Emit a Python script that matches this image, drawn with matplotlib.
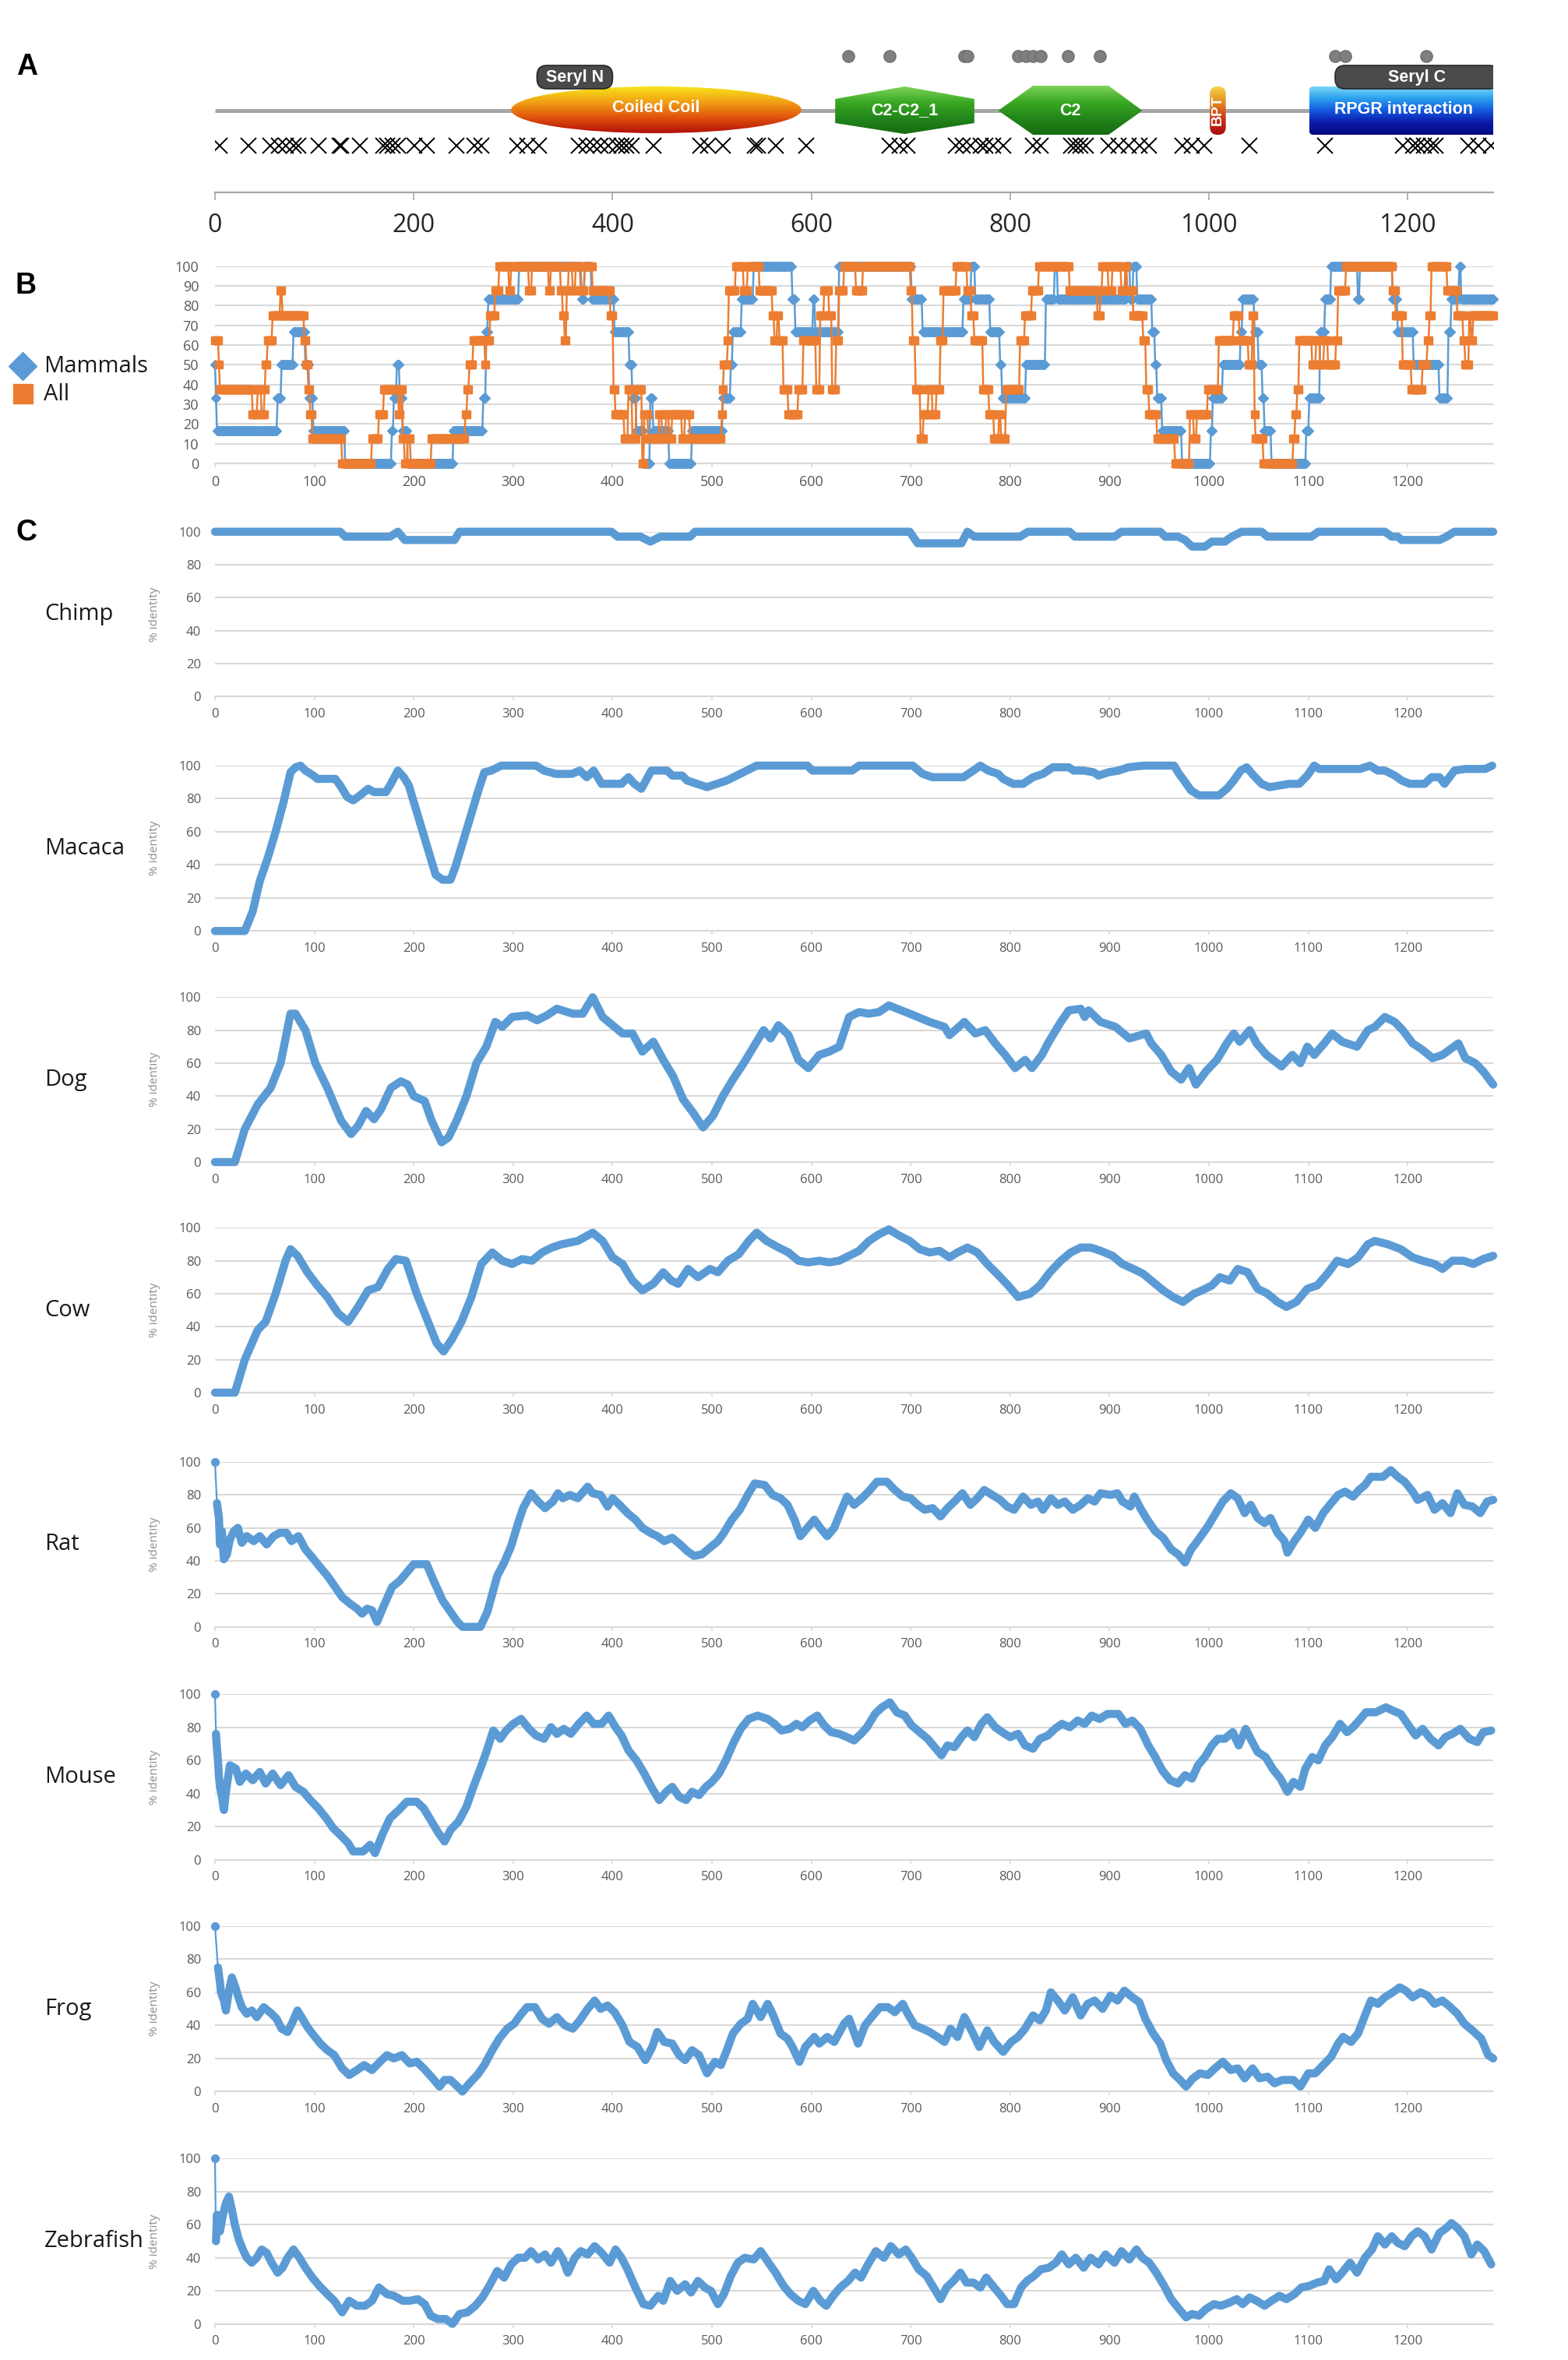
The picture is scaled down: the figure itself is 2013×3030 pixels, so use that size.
import numpy as np
import matplotlib
matplotlib.use("Agg")
import matplotlib.pyplot as plt
from matplotlib.patches import Ellipse, Polygon, FancyBboxPatch
from matplotlib.colors import LinearSegmentedColormap
from matplotlib.lines import Line2D

plt.rcParams['font.family'] = ['Open Sans', 'DejaVu Sans']

# ---------------- data: panel A (domain map) ----------------
protein_len = 1285
domain_names = ['Coiled Coil', 'C2-C2_1', 'C2', 'BPT', 'RPGR interaction']
domain_start = [298, 624, 788, 1001, 1101]
domain_end = [590, 764, 933, 1017, 1291]
seryl_names = ['Seryl N', 'Seryl C']
seryl_start = [324, 1127]
seryl_end = [400, 1292]
dot_pos = [637, 679, 754, 757, 808, 816, 823, 831, 858, 890, 1127, 1137, 1219]
cross_pos = [5, 34, 56, 64, 71, 79, 84, 104, 125, 127, 146, 169, 173, 179, 184, 201, 213,
             243, 261, 268, 304, 314, 326, 366, 374, 381, 388, 396, 404, 409, 414, 419,
             441, 488, 496, 511, 543, 546, 564, 595, 679, 689, 697, 745, 752, 760, 770,
             775, 783, 793, 823, 831, 861, 866, 871, 876, 899, 909, 919, 930, 940, 973,
             983, 995, 1041, 1117, 1195, 1205, 1210, 1216, 1223, 1228, 1261, 1271, 1284]
ruler_ticks = [0, 200, 400, 600, 800, 1000, 1200]

# ---------------- data: panel B (conservation, step series) ----------------
mam_start = [0, 1, 2, 63, 67, 79, 91, 95, 99, 131,
             178, 180, 183, 186, 189, 194, 240, 270, 273, 275,
             306, 369, 372, 379, 402, 417, 420, 424, 431, 438,
             441, 457, 480, 511, 519, 521, 530, 542, 581, 584,
             602, 604, 628, 701, 712, 753, 761, 765, 780, 790,
             792, 816, 836, 845, 848, 917, 921, 924, 928, 943,
             946, 948, 953, 973, 1002, 1004, 1014, 1032, 1034, 1046,
             1050, 1054, 1056, 1063, 1098, 1101, 1112, 1117, 1123, 1150,
             1152, 1185, 1190, 1206, 1232, 1241, 1244, 1252, 1254]
mam_val = [50, 33.3, 16.7, 33.3, 50, 66.7, 50, 33.3, 16.7, 0,
           16.7, 33.3, 50, 33.3, 16.7, 0, 16.7, 33.3, 66.7, 83.3,
           100, 83.3, 100, 83.3, 66.7, 50, 33.3, 16.7, 0, 33.3,
           16.7, 0, 16.7, 33.3, 50, 66.7, 83.3, 100, 83.3, 66.7,
           83.3, 66.7, 100, 83.3, 66.7, 83.3, 100, 83.3, 66.7, 50,
           33.3, 50, 83.3, 100, 83.3, 100, 83.3, 100, 83.3, 66.7,
           50, 33.3, 16.7, 0, 16.7, 33.3, 50, 66.7, 83.3, 66.7,
           50, 33.3, 16.7, 0, 16.7, 33.3, 66.7, 83.3, 100, 83.3,
           100, 83.3, 66.7, 50, 33.3, 66.7, 83.3, 100, 83.3]
all_start = [0, 4, 5, 38, 43, 47, 50, 51, 53, 58,
             66, 68, 90, 92, 94, 96, 98, 128, 158, 165,
             170, 185, 187, 189, 191, 194, 197, 218, 252, 254,
             256, 260, 272, 273, 277, 282, 286, 296, 298, 316,
             319, 336, 338, 348, 350, 352, 354, 356, 360, 363,
             368, 372, 380, 398, 401, 403, 412, 416, 420, 424,
             430, 432, 436, 447, 450, 454, 457, 460, 470, 473,
             478, 510, 511, 512, 516, 517, 524, 532, 536, 548,
             561, 563, 566, 568, 572, 577, 587, 592, 605, 609,
             613, 618, 621, 625, 628, 633, 645, 652, 700, 702,
             705, 710, 713, 718, 722, 726, 730, 733, 746, 757,
             761, 764, 773, 779, 784, 789, 791, 796, 810, 815,
             822, 829, 860, 888, 891, 893, 899, 903, 912, 916,
             918, 924, 934, 937, 940, 948, 966, 981, 985, 988,
             999, 1010, 1025, 1031, 1040, 1044, 1046, 1047, 1055, 1085,
             1087, 1089, 1091, 1104, 1108, 1112, 1116, 1120, 1128, 1130,
             1138, 1185, 1188, 1195, 1204, 1215, 1220, 1222, 1224, 1240,
             1250, 1256, 1258, 1262, 1264, 1266]
all_val = [62.5, 50, 37.5, 25, 37.5, 25, 37.5, 50, 62.5, 75,
           87.5, 75, 62.5, 50, 37.5, 25, 12.5, 0, 12.5, 25,
           37.5, 25, 37.5, 12.5, 0, 12.5, 0, 12.5, 25, 37.5,
           50, 62.5, 50, 62.5, 75, 87.5, 100, 87.5, 100, 87.5,
           100, 87.5, 100, 87.5, 75, 62.5, 87.5, 100, 87.5, 100,
           87.5, 100, 87.5, 75, 37.5, 25, 12.5, 37.5, 12.5, 37.5,
           0, 25, 12.5, 25, 12.5, 25, 12.5, 25, 12.5, 25,
           12.5, 25, 37.5, 50, 62.5, 87.5, 100, 87.5, 100, 87.5,
           75, 62.5, 75, 62.5, 37.5, 25, 37.5, 62.5, 37.5, 75,
           87.5, 75, 37.5, 62.5, 87.5, 100, 87.5, 100, 87.5, 62.5,
           37.5, 12.5, 25, 37.5, 25, 37.5, 62.5, 87.5, 100, 87.5,
           75, 62.5, 37.5, 25, 12.5, 25, 12.5, 37.5, 62.5, 75,
           87.5, 100, 87.5, 75, 87.5, 100, 87.5, 100, 87.5, 100,
           87.5, 75, 62.5, 37.5, 25, 12.5, 0, 25, 12.5, 25,
           37.5, 62.5, 75, 62.5, 50, 75, 25, 12.5, 0, 12.5,
           25, 37.5, 62.5, 50, 62.5, 50, 62.5, 50, 62.5, 87.5,
           100, 87.5, 75, 50, 37.5, 50, 62.5, 75, 100, 87.5,
           75, 62.5, 50, 75, 62.5, 75]

# ---------------- data: panel C (% identity per species) ----------------
chimp_x = [0, 126, 131, 176, 184, 191, 241, 246, 399, 405, 428, 438, 448, 478, 483, 699, 707, 751,
           757, 764, 810, 818, 860, 865, 905, 912, 951, 956, 969, 976, 983, 996, 1003, 1016, 1023,
           1033, 1053, 1059, 1103, 1110, 1177, 1184, 1190, 1194, 1232, 1239, 1247, 1286]
chimp_y = [100, 100, 97, 97, 100, 95, 95, 100, 100, 97, 97, 94, 97, 97, 100, 100, 93, 93,
           100, 97, 97, 100, 100, 97, 97, 100, 100, 97, 97, 95, 91, 91, 94, 94, 97,
           100, 100, 97, 97, 100, 100, 97, 97, 95, 95, 97, 100, 100]

macaca_x = [0, 30, 38, 45, 53, 61, 69, 76, 81, 86, 91, 99, 103, 121, 126, 133, 139, 146, 154, 160,
            172, 177, 184, 190, 195, 202, 210, 217, 222, 229, 237, 242, 249, 258, 265, 271, 278, 288,
            323, 331, 343, 359, 367, 374, 381, 389, 409, 416, 422, 429, 439, 455, 460, 470, 475, 485,
            495, 505, 515, 525, 535, 545, 596, 601, 641, 648, 702, 712, 722, 753, 763, 770, 778, 788,
            793, 803, 813, 823, 833, 843, 859, 864, 874, 884, 889, 899, 909, 919, 934, 965, 970, 975,
            982, 990, 1010, 1018, 1025, 1032, 1038, 1045, 1053, 1061, 1071, 1081, 1091, 1099, 1106,
            1111, 1152, 1162, 1170, 1177, 1187, 1194, 1202, 1217, 1224, 1232, 1237, 1242, 1247, 1258,
            1278, 1285]
macaca_y = [0, 0, 12, 30, 44, 60, 78, 96, 99, 100, 97, 94, 92, 92, 88, 81, 79, 82, 86, 84,
            84, 89, 97, 93, 88, 74, 58, 44, 34, 31, 31, 39, 53, 71, 85, 96, 97, 100,
            100, 97, 95, 95, 97, 93, 97, 89, 89, 93, 89, 86, 97, 97, 94, 94, 91, 89,
            87, 89, 91, 94, 97, 100, 100, 97, 97, 100, 100, 95, 93, 93, 97, 100, 97, 95,
            92, 89, 89, 93, 95, 99, 99, 97, 97, 96, 94, 96, 97, 99, 100, 100, 95, 91,
            85, 82, 82, 86, 91, 97, 99, 94, 89, 87, 88, 89, 89, 94, 100,
            98, 98, 100, 97, 97, 94, 91, 89, 89, 93, 93, 89, 93, 97, 98,
            98, 100]

dog_x = [0, 20, 30, 43, 56, 66, 76, 81, 91, 101, 113, 127, 137, 144, 152, 160, 167, 177, 187, 194,
         200, 211, 218, 228, 235, 243, 253, 263, 273, 282, 289, 299, 314, 324, 334, 344, 360, 370,
         380, 390, 400, 410, 420, 430, 441, 451, 461, 471, 481, 491, 501, 511, 521, 532, 542, 552,
         559, 567, 577, 587, 597, 608, 618, 628, 638, 648, 658, 668, 678, 699, 719, 734, 739, 754,
         765, 775, 785, 795, 805, 815, 822, 832, 838, 851, 859, 871, 875, 879, 891, 906, 920, 937,
         942, 952, 962, 972, 980, 987, 997, 1008, 1018, 1025, 1031, 1041, 1048, 1058, 1073, 1084,
         1092, 1099, 1106, 1116, 1124, 1134, 1149, 1160, 1167, 1177, 1187, 1195, 1205, 1215, 1225,
         1235, 1251, 1258, 1268, 1276, 1286]
dog_y = [0, 0, 20, 35, 45, 60, 90, 90, 80, 60, 45, 25, 17, 22, 31, 26, 32, 45, 49, 47,
         40, 37, 25, 12, 15, 25, 40, 60, 70, 85, 82, 88, 89, 86, 89, 93, 90, 90,
         100, 88, 83, 78, 78, 67, 73, 62, 52, 38, 30, 21, 28, 40, 50, 60, 70, 80,
         75, 83, 77, 62, 57, 65, 67, 70, 88, 91, 90, 91, 95, 90, 85, 82, 77, 85,
         78, 80, 72, 65, 57, 62, 57, 65, 72, 85, 92, 93, 88, 92, 85, 82, 75, 78,
         72, 65, 55, 50, 57, 47, 55, 62, 72, 78, 73, 80, 72, 65, 58, 65,
         60, 70, 65, 72, 78, 73, 70, 80, 82, 88, 85, 80, 72, 68, 63,
         65, 72, 63, 60, 55, 47]

cow_x = [0, 20, 30, 43, 51, 61, 71, 76, 83, 93, 103, 113, 124, 134, 144, 154, 164, 174, 182, 192,
         203, 213, 223, 230, 238, 248, 258, 268, 279, 289, 299, 309, 319, 329, 339, 349, 365, 380,
         390, 400, 410, 420, 430, 441, 451, 459, 466, 476, 486, 498, 506, 516, 527, 537, 545, 555,
         567, 577, 587, 597, 608, 618, 628, 638, 648, 658, 668, 678, 689, 699, 709, 719, 729, 739,
         747, 757, 767, 777, 787, 798, 808, 820, 830, 840, 851, 861, 871, 881, 891, 903, 913, 924,
         934, 944, 954, 964, 974, 985, 993, 1003, 1011, 1021, 1029, 1039, 1049, 1059, 1069, 1078,
         1088, 1099, 1109, 1119, 1129, 1140, 1150, 1160, 1167, 1180, 1193, 1205, 1215, 1227, 1235,
         1245, 1256, 1266, 1276, 1286]
cow_y = [0, 0, 20, 38, 43, 60, 80, 87, 83, 73, 65, 58, 48, 43, 52, 62, 64, 75, 81, 80,
         60, 45, 30, 25, 32, 43, 58, 78, 85, 80, 78, 81, 80, 85, 88, 90, 92, 97,
         92, 82, 78, 68, 62, 66, 73, 68, 66, 75, 70, 75, 73, 80, 84, 92, 97, 92,
         88, 85, 80, 79, 80, 79, 80, 83, 86, 92, 96, 99, 95, 92, 87, 85, 86, 82,
         85, 88, 85, 78, 72, 65, 58, 60, 65, 73, 80, 85, 88, 88, 86, 83, 78, 75,
         72, 67, 62, 58, 55, 60, 62, 65, 70, 68, 75, 73, 63, 60, 55, 52,
         55, 63, 65, 72, 80, 78, 82, 90, 92, 90, 87, 82, 80, 78, 75,
         80, 80, 78, 81, 83]

rat_x = [0, 2, 4, 5, 7, 9, 12, 15, 19, 23, 27, 32, 39, 45, 52, 59, 65, 72, 77, 84,
         91, 98, 106, 113, 120, 128, 136, 143, 148, 153, 158, 163, 170, 178, 186, 193, 200, 213,
         220, 229, 237, 244, 249, 267, 274, 279, 284, 291, 298, 305, 310, 318, 325, 332, 340, 345,
         350, 357, 365, 375, 380, 388, 395, 400, 407, 415, 423, 430, 438, 445, 452, 460, 468, 475,
         482, 490, 498, 506, 512, 520, 528, 536, 543, 553, 561, 569, 576, 583, 589, 596, 603, 609,
         616, 623, 629, 636, 643, 651, 659, 666, 676, 684, 692, 700, 707, 714, 722, 730, 737, 744,
         752, 760, 767, 774, 782, 790, 797, 804, 813, 821, 828, 833, 841, 848, 855, 863, 871, 878,
         885, 891, 901, 908, 913, 921, 925, 931, 938, 946, 954, 962, 969, 976, 982, 986, 992, 999,
         1006, 1014, 1022, 1029, 1036, 1042, 1049, 1056, 1062, 1069, 1076, 1079, 1086, 1092, 1100,
         1107, 1115, 1123, 1130, 1137, 1145, 1151, 1157, 1163, 1175, 1183, 1190, 1197, 1205, 1210,
         1220, 1227, 1235, 1243, 1250, 1257, 1265, 1273, 1280, 1286]
rat_y = [100, 75, 66, 50, 58, 41, 44, 53, 58, 60, 51, 55, 52, 55, 50, 55, 57, 57, 52, 55,
         47, 42, 36, 31, 25, 18, 14, 11, 8, 11, 10, 3, 13, 24, 28, 33, 38, 38,
         28, 16, 9, 3, 0, 0, 9, 20, 31, 39, 49, 63, 72, 81, 76, 72, 76, 81,
         78, 80, 78, 85, 81, 80, 73, 78, 74, 69, 65, 60, 57, 55, 52, 54, 50, 46,
         43, 44, 48, 52, 57, 65, 71, 80, 87, 86, 80, 78, 74, 65, 55, 60, 65, 60,
         55, 60, 69, 79, 74, 78, 83, 88, 88, 83, 79, 78, 74, 71, 72, 67, 72, 76,
         81, 74, 78, 83, 80, 77, 73, 71, 79, 74, 76, 71, 78, 74, 76, 71, 74, 78,
         76, 81, 80, 81, 76, 73, 79, 72, 65, 58, 54, 47, 44, 39, 47, 50, 55, 61,
         68, 76, 81, 78, 69, 74, 66, 63, 66, 57, 52, 45, 52, 57, 65,
         60, 69, 75, 80, 82, 79, 83, 86, 91, 91, 95, 91, 88, 82, 77,
         80, 71, 75, 69, 81, 74, 73, 69, 76, 77]

mouse_x = [0, 1, 2, 3, 4, 5, 7, 9, 11, 15, 21, 25, 31, 38, 45, 51, 58, 66, 74, 81,
           89, 96, 104, 112, 119, 126, 134, 139, 149, 156, 161, 169, 176, 185, 193, 203, 210, 217,
           225, 231, 237, 245, 253, 260, 267, 273, 280, 287, 293, 300, 308, 316, 323, 331, 338, 344,
           351, 358, 366, 374, 381, 389, 396, 403, 409, 416, 424, 432, 439, 447, 454, 460, 467, 474,
           480, 487, 494, 500, 507, 514, 522, 529, 537, 546, 556, 563, 570, 578, 585, 591, 598, 606,
           613, 620, 628, 636, 643, 650, 656, 664, 671, 679, 686, 694, 701, 709, 717, 724, 731, 737,
           744, 751, 757, 764, 771, 777, 785, 792, 800, 808, 815, 823, 830, 838, 845, 852, 860, 868,
           875, 882, 890, 898, 909, 916, 923, 931, 939, 946, 953, 961, 969, 976, 983, 989, 996, 1003,
           1009, 1016, 1024, 1030, 1037, 1042, 1049, 1057, 1064, 1072, 1079, 1085, 1092, 1097, 1104,
           1110, 1117, 1124, 1132, 1139, 1145, 1151, 1158, 1168, 1178, 1185, 1193, 1201, 1208, 1215,
           1223, 1231, 1238, 1245, 1253, 1262, 1270, 1276, 1284]
mouse_y = [100, 76, 67, 60, 50, 44, 38, 30, 41, 57, 55, 47, 52, 48, 53, 46, 52, 45, 51, 44,
           41, 36, 31, 25, 19, 15, 10, 5, 5, 9, 4, 16, 25, 30, 35, 35, 31, 24,
           16, 11, 18, 23, 32, 44, 55, 65, 78, 73, 78, 82, 85, 79, 75, 73, 80, 76,
           79, 76, 82, 87, 82, 82, 87, 80, 75, 66, 60, 52, 44, 36, 41, 44, 38, 36,
           41, 39, 44, 47, 52, 60, 71, 79, 85, 87, 85, 82, 78, 79, 82, 80, 84, 87,
           81, 77, 76, 74, 72, 76, 80, 88, 92, 95, 89, 87, 81, 77, 73, 68, 63, 69,
           68, 74, 78, 74, 82, 86, 80, 77, 74, 76, 69, 67, 73, 75, 79, 82, 80, 84,
           82, 87, 85, 88, 88, 82, 84, 79, 69, 62, 54, 48, 46, 51, 49, 57, 62, 69,
           73, 73, 77, 69, 79, 73, 65, 62, 55, 49, 41, 47, 44, 55, 62,
           60, 69, 74, 82, 77, 80, 84, 89, 89, 92, 90, 88, 81, 75, 79,
           73, 69, 74, 76, 79, 73, 71, 77, 78]

frog_x = [0, 3, 5, 6, 9, 11, 14, 17, 20, 23, 27, 32, 37, 42, 49, 57, 62, 67, 73, 78,
          83, 88, 93, 98, 106, 113, 120, 128, 135, 143, 150, 158, 166, 173, 180, 188, 196, 203,
          210, 219, 226, 231, 237, 244, 249, 256, 264, 271, 279, 286, 294, 301, 307, 314, 322, 329,
          336, 344, 352, 360, 367, 375, 382, 388, 395, 402, 410, 417, 425, 433, 440, 445, 452, 460,
          467, 473, 480, 487, 495, 503, 509, 515, 521, 529, 536, 541, 549, 556, 561, 569, 576, 581,
          588, 594, 603, 608, 616, 623, 633, 638, 647, 654, 662, 669, 677, 684, 692, 697, 704, 712,
          719, 727, 734, 740, 747, 754, 762, 769, 777, 784, 793, 801, 808, 815, 823, 830, 836, 841,
          848, 855, 863, 871, 878, 885, 893, 901, 908, 915, 923, 930, 936, 944, 951, 957, 964, 971,
          977, 984, 991, 999, 1006, 1014, 1022, 1029, 1036, 1044, 1051, 1059, 1066, 1074, 1085,
          1092, 1100, 1107, 1115, 1123, 1130, 1135, 1143, 1150, 1157, 1163, 1170, 1177, 1185, 1192,
          1198, 1205, 1213, 1220, 1227, 1235, 1243, 1250, 1257, 1265, 1274, 1281, 1286]
frog_y = [100, 75, 66, 60, 55, 49, 61, 69, 64, 58, 51, 47, 49, 45, 51, 47, 44, 38, 36, 42,
          49, 44, 39, 35, 29, 25, 22, 14, 10, 13, 16, 13, 18, 22, 20, 22, 17, 18,
          14, 8, 3, 7, 7, 3, 0, 5, 10, 16, 25, 32, 38, 41, 46, 51, 51, 44,
          41, 45, 40, 38, 43, 50, 55, 50, 52, 48, 40, 30, 27, 19, 27, 36, 30, 29,
          22, 19, 25, 22, 11, 18, 16, 25, 35, 41, 44, 53, 45, 53, 47, 35, 32, 27,
          18, 27, 33, 29, 33, 30, 41, 44, 29, 40, 46, 51, 51, 48, 53, 47, 40, 38,
          36, 33, 30, 38, 33, 45, 36, 27, 37, 30, 24, 30, 33, 38, 46, 43, 49, 60,
          55, 49, 57, 46, 53, 55, 50, 58, 55, 61, 57, 54, 44, 35, 29, 19, 11, 7,
          3, 8, 11, 10, 14, 18, 13, 14, 8, 14, 8, 9, 5, 7, 7,
          3, 11, 11, 16, 21, 29, 33, 30, 35, 46, 55, 53, 57, 60, 63,
          61, 57, 60, 58, 53, 55, 51, 47, 41, 37, 32, 22, 20]

zebrafish_x = [0, 1, 2, 5, 8, 11, 14, 17, 20, 24, 28, 32, 37, 42, 47, 52, 57, 63, 68, 73,
               79, 85, 91, 98, 105, 113, 120, 128, 135, 143, 151, 158, 165, 173, 180, 189, 196, 204,
               211, 217, 224, 232, 239, 246, 254, 262, 269, 276, 284, 291, 298, 305, 312, 318, 325,
               332, 338, 345, 350, 355, 362, 368, 375, 382, 389, 397, 403, 409, 415, 423, 431, 438,
               446, 451, 458, 465, 473, 479, 486, 493, 499, 506, 512, 519, 526, 533, 542, 549, 557,
               564, 572, 579, 587, 594, 602, 609, 615, 622, 629, 637, 644, 650, 657, 665, 673, 680,
               688, 695, 701, 708, 716, 723, 730, 736, 743, 750, 756, 763, 770, 776, 784, 791, 797,
               804, 811, 817, 824, 831, 839, 846, 852, 859, 866, 874, 881, 889, 896, 905, 912, 920,
               927, 933, 940, 947, 955, 962, 970, 977, 983, 990, 997, 1005, 1012, 1021, 1028, 1034,
               1041, 1048, 1056, 1063, 1071, 1078, 1086, 1093, 1101, 1109, 1116, 1121, 1128, 1134,
               1142, 1149, 1157, 1164, 1170, 1177, 1184, 1190, 1197, 1204, 1210, 1217, 1224, 1232,
               1239, 1244, 1250, 1257, 1264, 1270, 1277, 1284]
zebrafish_y = [100, 50, 66, 56, 66, 73, 77, 69, 60, 51, 45, 40, 37, 40, 45, 43, 37, 31, 34, 40,
               45, 40, 34, 28, 23, 18, 14, 7, 14, 11, 11, 14, 22, 18, 17, 14, 14, 15,
               12, 5, 3, 3, 0, 6, 7, 11, 16, 23, 32, 28, 36, 40, 40, 44, 39,
               42, 37, 44, 39, 31, 40, 44, 42, 47, 43, 37, 45, 40, 33, 22, 12, 11,
               17, 14, 26, 20, 24, 19, 26, 22, 20, 12, 18, 29, 37, 40, 39, 44, 37,
               31, 23, 18, 14, 12, 20, 14, 11, 17, 22, 26, 31, 28, 36, 44, 40, 47,
               42, 45, 40, 33, 29, 22, 15, 22, 26, 31, 25, 25, 22, 28, 22, 17, 12,
               12, 22, 26, 29, 33, 34, 37, 42, 36, 40, 34, 40, 36, 42, 37, 44, 39,
               45, 40, 37, 31, 23, 15, 9, 4, 6, 5, 9, 12, 11, 13, 15, 12,
               16, 14, 11, 14, 17, 15, 18, 22, 23, 25, 26, 33, 27, 31,
               37, 31, 40, 45, 53, 48, 53, 49, 47, 53, 56, 53, 45, 55,
               58, 61, 58, 53, 42, 48, 44, 36]

species = ['Chimp', 'Macaca', 'Dog', 'Cow', 'Rat', 'Mouse', 'Frog', 'Zebrafish']
species_x = [chimp_x, macaca_x, dog_x, cow_x, rat_x, mouse_x, frog_x, zebrafish_x]
species_y = [chimp_y, macaca_y, dog_y, cow_y, rat_y, mouse_y, frog_y, zebrafish_y]

# ---------------- layout / style ----------------
W, H = 2013, 3030
X0, XSCALE, XMAX = 276, 1.276, 1286
BLUE = '#5B9BD5'
ORANGE = '#ED7D31'
GRID = '#d9d9d9'
TICKC = '#595959'

fig = plt.figure(figsize=(W / 100, H / 100), dpi=100)
fig.patch.set_facecolor('white')


def ax_at(top_px, bottom_px):
    return fig.add_axes([X0 / W, 1 - bottom_px / H, XMAX * XSCALE / W, (bottom_px - top_px) / H])


def ftext(x, y, s, **kw):
    return fig.text(x / W, 1 - y / H, s, **kw)


def grad_patch(ax, patch, colors, x0, x1, y0, y1, z=3):
    patch.set_facecolor('none')
    patch.set_edgecolor('none')
    patch.set_zorder(z)
    ax.add_patch(patch)
    cmap = LinearSegmentedColormap.from_list('g', colors)
    grad = np.linspace(0, 1, 256).reshape(-1, 1)
    im = ax.imshow(grad, cmap=cmap, extent=(x0, x1, y1, y0), aspect='auto',
                   origin='upper', zorder=z, interpolation='bilinear')
    im.set_clip_path(patch)


# ---------------- Panel A ----------------
axA = ax_at(40, 247)
axA.plot([0, protein_len], [142, 142], color='#a6a6a6', lw=3.6, solid_capstyle='butt', zorder=1)

dtext = dict(color='white', fontweight='bold', fontsize=15.5, ha='center', va='center',
             family=['Liberation Sans', 'DejaVu Sans'], zorder=10)

# Coiled coil
s, e = domain_start[0], domain_end[0]
grad_patch(axA, Ellipse(((s + e) / 2, 141), e - s, 60),
           ['#f7e41a', '#f1a014', '#e0520c', '#b30f0a'], s, e, 111, 171)
axA.text((s + e) / 2, 139, domain_names[0], **dtext)

# C2-C2_1 (pointed top/bottom)
s, e = domain_start[1], domain_end[1]
m = (s + e) / 2
grad_patch(axA, Polygon([(s, 127), (m, 111), (e, 127), (e, 158), (m, 172), (s, 158)], closed=True),
           ['#7ed45a', '#3aa823', '#22861a', '#166a10'], s, e, 111, 172)
axA.text(m, 142, domain_names[1], **dtext)

# C2 (pointed left/right)
s, e = domain_start[2], domain_end[2]
grad_patch(axA, Polygon([(s, 142), (s + 35, 110), (e - 34, 110), (e, 142), (e - 34, 173), (s + 35, 173)],
                        closed=True),
           ['#7ed45a', '#3aa823', '#22861a', '#166a10'], s, e, 110, 173)
axA.text((s + e) / 2, 142, domain_names[2], **dtext)

# BPT
s, e = domain_start[3], domain_end[3]
grad_patch(axA, FancyBboxPatch((s, 111), e - s, 62, boxstyle='round,pad=0,rounding_size=7.5',
                               mutation_aspect=XSCALE),
           ['#f4d44a', '#e48a22', '#c8341a', '#a80e0e'], s, e, 111, 173)
axA.text((s + e) / 2, 142, domain_names[3], rotation=90, **dict(dtext, fontsize=14))

# RPGR interaction
s, e = domain_start[4], domain_end[4]
grad_patch(axA, FancyBboxPatch((s, 111), e - s, 62, boxstyle='round,pad=0,rounding_size=4',
                               mutation_aspect=XSCALE),
           ['#7ad8f6', '#2aa0ee', '#1458e0', '#0a1aa8', '#070a80'], s, e, 111, 173)
axA.text((s + e) / 2, 141, domain_names[4], **dtext)

# Seryl boxes
for name, s, e in zip(seryl_names, seryl_start, seryl_end):
    axA.add_patch(FancyBboxPatch((s, 84), e - s, 30, boxstyle='round,pad=0,rounding_size=10',
                                 mutation_aspect=XSCALE, facecolor='#4a4a4a',
                                 edgecolor='#262626', lw=1.2, zorder=6))
    axA.text((s + e) / 2, 99, name, **dict(dtext, zorder=11))

# dots and crosses
axA.plot(dot_pos, [72] * len(dot_pos), 'o', color='#7f7f7f', ms=11, mec='#6e6e6e', zorder=5)
axA.plot(cross_pos, [187] * len(cross_pos), 'x', color='black', ms=14, mew=1.4, zorder=5)

axA.set_xlim(0, XMAX)
axA.set_ylim(247, 40)
for sp in ['top', 'left', 'right']:
    axA.spines[sp].set_visible(False)
axA.spines['bottom'].set_color('#a6a6a6')
axA.spines['bottom'].set_linewidth(1.6)
axA.set_xticks(ruler_ticks)
axA.set_yticks([])
axA.tick_params(axis='x', direction='out', length=7, width=1.2, color='#a6a6a6',
                labelsize=23, labelcolor='#262626', pad=12)

# ---------------- Panel B ----------------
axB = ax_at(341.7, 595)
res = np.arange(0, XMAX + 1)
mam_series = np.array(mam_val)[np.searchsorted(mam_start, res, side='right') - 1]
all_series = np.array(all_val)[np.searchsorted(all_start, res, side='right') - 1]
axB.plot(res, mam_series, '-', color=BLUE, lw=1.8, marker='D', ms=6.5, mec=BLUE, mfc=BLUE,
         zorder=3, clip_on=False)
axB.plot(res, all_series, '-', color=ORANGE, lw=1.8, marker='s', ms=7, mec=ORANGE, mfc=ORANGE,
         zorder=4, clip_on=False)
axB.set_xlim(0, XMAX)
axB.set_ylim(0, 100)
axB.set_yticks(np.arange(0, 101, 10))
axB.set_xticks(np.arange(0, 1201, 100))
axB.grid(axis='y', color=GRID, lw=1.5, zorder=0)
axB.set_axisbelow(True)
for sp in ['top', 'left', 'right']:
    axB.spines[sp].set_visible(False)
axB.spines['bottom'].set_color(GRID)
axB.spines['bottom'].set_linewidth(1.5)
axB.tick_params(axis='x', length=3.6, width=1.2, color=GRID, labelsize=13, labelcolor=TICKC, pad=7)
axB.tick_params(axis='y', length=0, labelsize=13, labelcolor=TICKC, pad=15)

# legend for B
fig.add_artist(Line2D([29 / W], [1 - 470 / H], transform=fig.transFigure, marker='D', ms=18,
                      color=BLUE, ls='none'))
fig.add_artist(Line2D([29 / W], [1 - 505 / H], transform=fig.transFigure, marker='s', ms=18,
                      color=ORANGE, ls='none'))
ftext(56, 470, 'Mammals', fontsize=21, ha='left', va='center', color='#1a1a1a')
ftext(56, 506, 'All', fontsize=21, ha='left', va='center', color='#1a1a1a')

# ---------------- Panel C ----------------
tops = [682.7, 983, 1280.3, 1576.3, 1877, 2175, 2473, 2771.3]
bots = [894.3, 1195.3, 1492, 1788, 2088.7, 2387.7, 2685.3, 2983.7]
LW = 7.5
for name, xs, ys, t, b in zip(species, species_x, species_y, tops, bots):
    ax = ax_at(t, b)
    if abs(ys[1] - ys[0]) > 20:
        ax.plot(xs[:2], ys[:2], color=BLUE, lw=1.6, clip_on=False, zorder=3)
        ax.plot(xs[:1], ys[:1], 'o', color=BLUE, ms=7, clip_on=False, zorder=3)
        ax.plot(xs[1:], ys[1:], color=BLUE, lw=LW, solid_joinstyle='round',
                solid_capstyle='round', clip_on=False, zorder=3)
    else:
        ax.plot(xs, ys, color=BLUE, lw=LW, solid_joinstyle='round',
                solid_capstyle='round', clip_on=False, zorder=3)
    ax.set_xlim(0, XMAX)
    ax.set_ylim(0, 100)
    ax.set_yticks(np.arange(0, 101, 20))
    ax.set_xticks(np.arange(0, 1201, 100))
    ax.grid(axis='y', color=GRID, lw=1.5, zorder=0)
    ax.set_axisbelow(True)
    for sp in ['top', 'left', 'right']:
        ax.spines[sp].set_visible(False)
    ax.spines['bottom'].set_color(GRID)
    ax.spines['bottom'].set_linewidth(1.5)
    ax.tick_params(axis='x', length=3.6, width=1.2, color=GRID, labelsize=12, labelcolor=TICKC, pad=7)
    ax.tick_params(axis='y', length=0, labelsize=12, labelcolor=TICKC, pad=13)
    cy = (t + b) / 2
    ftext(57, cy, name, fontsize=21, ha='left', va='center', color='#1a1a1a')
    ftext(199, cy, '% identity', fontsize=11, rotation=90, ha='center', va='center', color='#8c8c8c')

# panel letters
bold = dict(fontsize=27, fontweight='bold', ha='left', va='center', color='black',
            family=['Liberation Sans', 'DejaVu Sans'])
ftext(21, 86, 'A', **bold)
ftext(20, 367, 'B', **bold)
ftext(21, 684, 'C', **bold)

fig.savefig('out.png', dpi=100, facecolor='white')
